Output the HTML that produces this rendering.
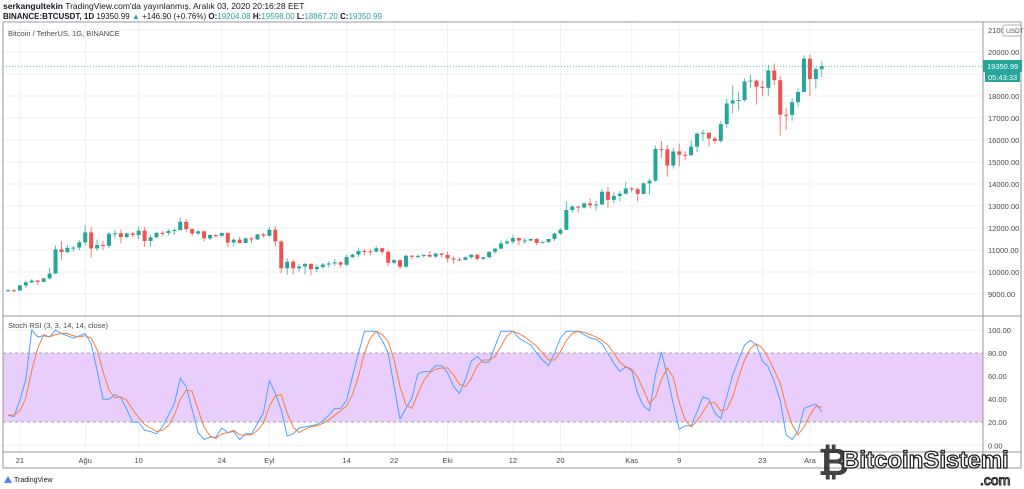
<!DOCTYPE html>
<html><head><meta charset="utf-8">
<style>
body{margin:0;background:#fff;width:1024px;height:489px;overflow:hidden;font-family:"Liberation Sans",sans-serif}
svg{display:block}
text{font-family:"Liberation Sans",sans-serif}
</style></head>
<body>
<svg id="c" width="1024" height="489" viewBox="0 0 1024 489">
<text x="3" y="9" font-size="8.5" fill="#131722"><tspan font-weight="bold">serkangultekin</tspan> TradingView.com'da yayınlanmış, Aralık 03, 2020 20:16:28 EET</text>
<text x="3" y="19" font-size="8" fill="#131722"><tspan font-weight="bold">BINANCE:BTCUSDT, 1D</tspan> 19350.99 <tspan fill="#26a69a">▲</tspan> +146.90 (+0.76%) <tspan font-weight="bold">O:</tspan><tspan fill="#26a69a">19204.08</tspan> <tspan font-weight="bold">H:</tspan><tspan fill="#26a69a">19598.00</tspan> <tspan font-weight="bold">L:</tspan><tspan fill="#26a69a">18867.20</tspan> <tspan font-weight="bold">C:</tspan><tspan fill="#26a69a">19350.99</tspan></text>
<g id="grid"></g>
<rect x="3" y="353" width="980" height="69" fill="#e9cdfb"/>
<line x1="3" x2="983" y1="353" y2="353" stroke="#8a8a8a" stroke-dasharray="3,3" stroke-width="0.8"/>
<line x1="3" x2="983" y1="422" y2="422" stroke="#8a8a8a" stroke-dasharray="3,3" stroke-width="0.8"/>
<g id="marks"></g>
<rect x="3" y="22" width="1018" height="446" fill="none" stroke="#9598a1" stroke-width="1"/>
<line x1="3" x2="1021" y1="316" y2="316" stroke="#9598a1"/>
<line x1="3" x2="1021" y1="452" y2="452" stroke="#9598a1"/>
<line x1="983" x2="983" y1="22" y2="468" stroke="#9598a1"/>
<text x="8" y="36" font-size="7.5" fill="#4a4a4a">Bitcoin / TetherUS, 1G, BINANCE</text>
<text x="8" y="328" font-size="7.5" fill="#4a4a4a">Stoch RSI (3, 3, 14, 14, close)</text>
<g id="axes"></g>
<rect x="1003" y="25" width="18" height="11" fill="#fff" stroke="#9598a1" stroke-width="0.7" rx="1"/>
<text x="1006" y="33" font-size="6.5" fill="#4a4a4a">USDT</text>
<rect x="983" y="60" width="39" height="12" fill="#26a69a"/>
<text x="987" y="69" font-size="7.5" fill="#fff">19350.99</text>
<rect x="985" y="72" width="35" height="10" fill="#26a69a"/>
<text x="988" y="80" font-size="7.5" fill="#fff">05:43:33</text>
<g>
<path d="M4 483 L8 476 L12 483 Z" fill="#2962ff" opacity="0.8"/>
<text x="14" y="482" font-size="7" fill="#131722">TradingView</text>
</g>
<g>
<text x="818" y="475" font-size="38" font-weight="bold" fill="#222" opacity="0.85">₿</text>
<text x="842" y="468" font-size="24" fill="#fff" stroke="#222" stroke-width="1.3" font-weight="bold">BitcoinSistemi</text>
<text x="980" y="485" font-size="14" fill="#fff" stroke="#222" stroke-width="1">.com</text>
</g>
</svg>
<script>
const dateLabels=["21","Ağu","10","24","Eyl","14","22","Eki","12","20","Kas","9","23","Ara"];
const dateIdx=[2,13,22,36,44,57,65,74,85,93,105,113,127,135];
const priceTicks=[9000,10000,11000,12000,13000,14000,15000,16000,17000,18000,19000,20000,21000];
const rsiTicks=[0,20,40,60,80,100];
const firstOpen=9150;
const closes=[9170,9160,9390,9530,9610,9550,9710,9930,11030,10910,11100,11110,11350,11800,11070,11230,11190,11740,11760,11590,11750,11680,11880,11410,11580,11780,11770,11860,11910,12280,11950,11750,11850,11530,11680,11650,11770,11340,11470,11320,11530,11480,11710,11650,11920,11390,10170,10470,10170,10250,10370,10130,10230,10340,10390,10440,10330,10680,10790,10950,10940,10930,11080,10920,10420,10540,10240,10740,10690,10730,10775,10700,10840,10780,10620,10570,10550,10670,10790,10600,10670,10920,11060,11300,11380,11540,11430,11430,11500,11320,11360,11500,11750,11920,12820,12970,12930,13120,13030,13070,13650,13280,13460,13560,13800,13760,13550,14030,14150,15590,15580,14840,15480,15330,15310,15700,16290,16330,16070,15960,16720,17660,17800,17820,18660,18700,18420,18370,19160,18720,17150,17140,17720,18180,19700,18770,19220,19350.99];
const highs=[9220,9230,9430,9600,9680,9640,9730,10200,11200,11400,11250,11180,11450,12120,12040,11480,11420,11800,11900,11920,11800,11830,12070,12050,11700,11800,11850,11950,11990,12480,12400,11990,11900,11880,11720,11720,11800,11790,11530,11590,11550,11590,11730,11780,12050,12090,11460,10630,10570,10360,10410,10390,10340,10410,10480,10590,10480,10770,10830,11100,11040,11040,11180,11090,10990,10580,10570,10800,10770,10800,10800,10950,10870,10860,10920,10680,10670,10700,10800,10810,10690,10940,11100,11440,11480,11700,11560,11550,11530,11540,11400,11500,11790,12000,13220,13040,13020,13160,13350,13250,13770,13860,13640,13680,14100,13870,13830,14070,14250,15750,15960,15770,15650,15840,15480,15970,16340,16480,16330,16150,16870,17860,18480,18200,18800,18970,18750,18700,19420,19480,18900,17460,17890,18360,19850,19900,19300,19598];
const lows=[9100,9080,9130,9280,9480,9400,9530,9670,9920,10560,10860,10930,10990,11220,10650,10950,11010,11080,11540,11300,11520,11570,11500,11140,11150,11530,11630,11670,11690,11880,11820,11630,11680,11380,11450,11560,11600,11130,11160,11290,11300,11310,11450,11560,11580,11150,9960,9880,9900,10010,9880,9850,10000,10150,10200,10290,10200,10260,10630,10670,10750,10760,10890,10800,10270,10360,10130,10200,10570,10600,10650,10660,10640,10660,10440,10380,10500,10530,10600,10530,10540,10640,10830,11040,11250,11270,11220,11280,11390,11220,11310,11330,11410,11690,11900,12690,12710,12880,12890,12800,13050,12920,13130,13220,13530,13620,13200,13520,13520,14100,15170,14330,14700,14800,15080,15270,15450,15960,15700,15830,15870,16550,17210,17340,17740,18360,17610,18000,18000,18500,16200,16450,16870,17520,18180,18000,18330,18867];
const stochK=[26,25,39,57,100,94,95,94,100,97,95,93,95,97,88,65,40,40,44,41,31,20,20,13,12,10,16,26,36,58,51,31,11,5,7,7,15,11,12,5,10,10,19,28,56,45,31,8,10,15,16,17,18,21,26,32,32,39,60,80,99,99,99,91,80,51,23,32,41,62,64,64,69,69,63,51,45,57,73,77,72,72,86,99,99,99,93,90,87,80,74,69,80,93,99,99,99,96,93,92,88,80,71,64,68,65,45,34,30,61,81,60,36,14,17,17,29,42,40,28,23,42,61,74,87,91,87,73,68,55,39,9,5,12,32,34,36,29];
const stochD=[26,26,30,41,65,84,96,94,96,97,97,95,94,95,93,83,64,48,41,42,39,31,24,18,15,12,13,17,26,40,48,47,31,16,8,6,10,11,13,9,9,9,13,19,34,43,44,28,16,11,14,16,17,19,22,26,30,34,44,60,80,93,99,96,90,74,51,35,32,45,56,63,66,67,67,61,53,51,58,69,74,74,77,86,95,99,97,94,90,86,80,74,74,81,91,97,99,98,96,94,91,87,80,72,68,66,59,48,36,42,57,67,59,37,22,16,21,29,37,37,30,31,42,59,74,84,88,84,76,65,54,34,18,9,16,26,34,33];

const NS="http://www.w3.org/2000/svg";
const xOf=i=>8+5.94*i;
const yP=p=>52+(20000-p)*0.022;
const yR=v=>445.3-v*1.153;
function mk(tag,attrs,parent){const e=document.createElementNS(NS,tag);for(const k in attrs)e.setAttribute(k,attrs[k]);parent.appendChild(e);return e;}
const grid=document.getElementById('grid'),marks=document.getElementById('marks'),axes=document.getElementById('axes');

dateIdx.forEach((di,k)=>{
  const x=xOf(di);
  const g=mk('line',{x1:x,x2:x,y1:22,y2:452,stroke:'#eef1f5','stroke-width':1},grid);
  
  
  const t=mk('text',{x:x,y:463,'font-size':7.5,fill:'#4a4a4a','text-anchor':'middle'},axes);
  t.textContent=dateLabels[k];
  
  
});
priceTicks.forEach(p=>{
  const y=yP(p);
  if(y<24)return;
  const g=mk('line',{x1:3,x2:983,y1:y,y2:y,stroke:'#eef1f5','stroke-width':1},grid);
  
  
  const t=mk('text',{x:988,y:y+3,'font-size':7.5,fill:'#4a4a4a'},axes);
  t.textContent=p.toFixed(2);
  
  
});
rsiTicks.forEach(v=>{
  const y=yR(v);
  if(v!==20&&v!==80){
    const g=mk('line',{x1:3,x2:983,y1:y,y2:y,stroke:'#eef1f5','stroke-width':1},grid);
    
    
  }
  const t=mk('text',{x:988,y:y+3,'font-size':7.5,fill:'#4a4a4a'},axes);
  t.textContent=v.toFixed(2);
  
  
});
// last price dotted line
const lp=mk('line',{x1:3,x2:983,y1:yP(closes[closes.length-1]),y2:yP(closes[closes.length-1]),stroke:'#26a69a','stroke-dasharray':'1,2','stroke-width':0.8},marks);



closes.forEach((c,i)=>{
  const o=i===0?firstOpen:closes[i-1];
  const up=c>=o, col=up?'#26a69a':'#ef5350';
  const x=xOf(i);
  const g=mk('g',{},marks);
  
  
  mk('line',{x1:x,x2:x,y1:yP(highs[i]),y2:yP(lows[i]),stroke:col,'stroke-width':1,opacity:0.75},g);
  const t=yP(Math.max(o,c)),b=yP(Math.min(o,c));
  mk('rect',{x:x-2,y:t,width:4,height:Math.max(1,b-t),fill:col},g);
});
function line(arr,col,name){
  const d=arr.map((v,i)=>(i?'L':'M')+xOf(i).toFixed(1)+' '+yR(v).toFixed(1)).join(' ');
  const p=mk('path',{d:d,fill:'none',stroke:col,'stroke-width':1},marks);
  
  
}
line(stochK,'#4da3ff','stoch-k-line');
line(stochD,'#f57f3c','stoch-d-line');
</script>
</body></html>
